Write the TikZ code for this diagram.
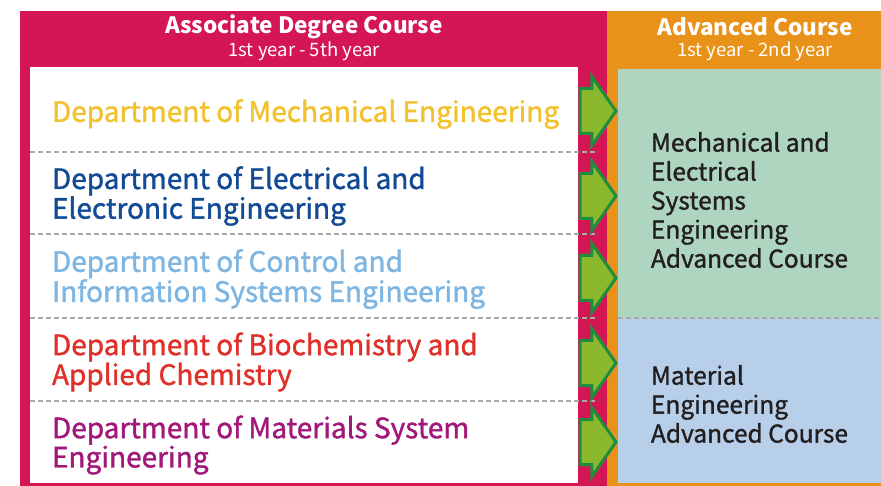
\documentclass[tikz,border=0pt]{standalone}
\usepackage{fontspec}
\setmainfont{Noto Sans CJK JP}
\newfontfamily\medfont[FakeBold=1.3]{Noto Sans CJK JP}
\usetikzlibrary{shapes.arrows}
\definecolor{assocred}{HTML}{D51655}
\definecolor{advorange}{HTML}{E8921A}
\definecolor{mintbox}{HTML}{ADD5C0}
\definecolor{skybox}{HTML}{B8CFEA}
\definecolor{arrowfill}{HTML}{8AB92D}
\definecolor{arrowline}{HTML}{1E8E3E}
\definecolor{mechyellow}{HTML}{F2C12E}
\definecolor{elecblue}{HTML}{124A94}
\definecolor{ctrlblue}{HTML}{7DB6E2}
\definecolor{biored}{HTML}{E0302A}
\definecolor{matpurple}{HTML}{A1177A}
\definecolor{sepgray}{HTML}{AAAAAA}
\definecolor{advtext}{HTML}{231F20}
\tikzset{
    every node/.style={inner sep=0pt, outer sep=0pt}
}
\tikzset{
    head/.style={text=white, font=\bfseries\fontsize{22.5}{24}\selectfont},
    subhead/.style={text=white, font=\fontsize{18.5}{20}\selectfont},
    dept/.style={anchor=west, align=left, font=\medfont\fontsize{28}{28}\selectfont},
    advtitle/.style={anchor=west, align=left, text=advtext,
    	font=\medfont\fontsize{24.5}{29}\selectfont},
    sep/.style={draw=sepgray, line width=1.2pt, dash pattern=on 5pt off 3pt},
    goarrow/.style={single arrow, draw=arrowline, fill=arrowfill, line width=3pt,
    	inner xsep=0pt, inner ysep=21pt, minimum height=36pt,
    	single arrow head extend=12pt, single arrow tip angle=110, anchor=tip}
}

\begin{document}
\begin{tikzpicture}[x=1pt, y=-1pt]
	\useasboundingbox (0,0) rectangle (881,486);
	% panels
	\fill[assocred] (20,11) rectangle (607,486);
	\fill[advorange] (607,11) rectangle (881,486);
	\fill[mintbox] (618,69) rectangle (881,318);
	\fill[skybox] (618,318) rectangle (881,483);
	\fill[white] (30,67) rectangle (578,483);
	
	\node (hdrL) [head] at (304, 27) {Associate Degree Course};
	\node (subL) [subhead] at (304, 51) {1st year - 5th year};
	\node (hdrR) [head] at (755, 27) {Advanced Course};
	\node (subR) [subhead] at (755, 51) {1st year - 2nd year};
	
	\foreach \y in {152,234,318,401} {
		\draw[sep] (30,\y) -- (598,\y);
	}
	\draw[sep] (618,318) -- (881,318);
	
	\node (mech) [dept, text=mechyellow] at (52, 114) {Department of Mechanical Engineering};
	\node (elec) [dept, text=elecblue] at (52, 196) {Department of Electrical and\\Electronic Engineering};
	\node (ctrl) [dept, text=ctrlblue] at (52, 279) {Department of Control and\\Information Systems Engineering};
	\node (bio) [dept, text=biored] at (52, 362) {Department of Biochemistry and\\Applied Chemistry};
	\node (mat) [dept, text=matpurple] at (52, 445) {Department of Materials System\\Engineering};
	
	\node (arr1) [goarrow] at (616, 111) {};
	\node (arr2) [goarrow] at (616, 196) {};
	\node (arr3) [goarrow] at (616, 278) {};
	\node (arr4) [goarrow] at (616, 363) {};
	\node (arr5) [goarrow] at (616, 442) {};
	
	\node (mes) [advtitle] at (651, 200) {Mechanical and\\Electrical\\Systems\\Engineering\\Advanced Course};
	\node (meng) [advtitle] at (651, 404) {Material\\Engineering\\Advanced Course};
\end{tikzpicture}
\end{document}
